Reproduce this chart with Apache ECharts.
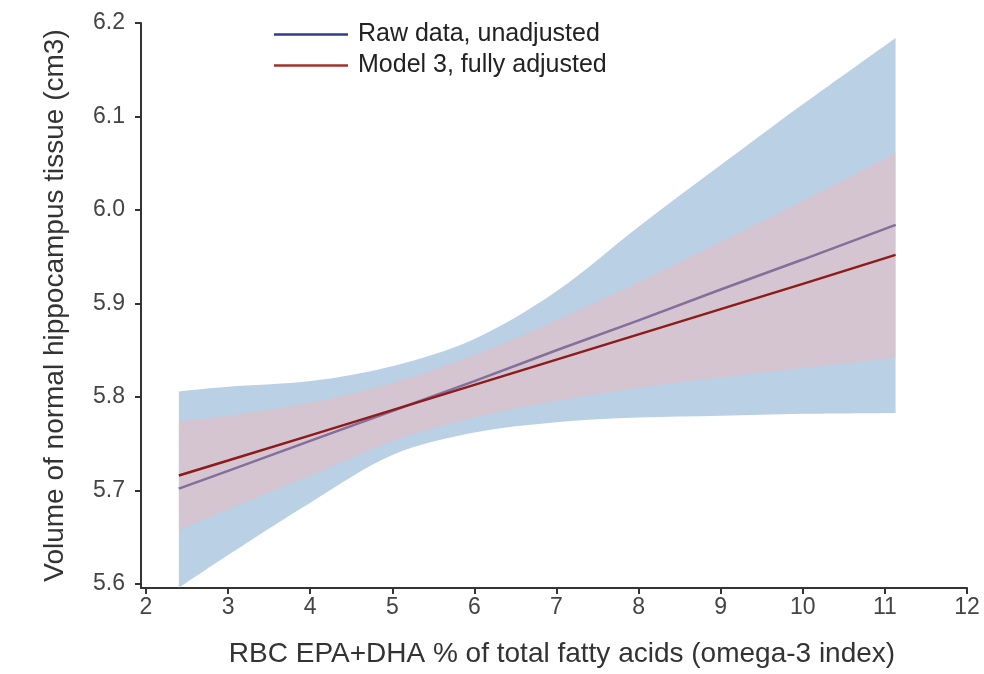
<!DOCTYPE html>
<html>
<head>
<meta charset="utf-8">
<script src="https://cdn.jsdelivr.net/npm/echarts@6/dist/echarts.min.js"></script>
<style>html,body{margin:0;padding:0;background:#fff}#c{width:984px;height:674px}</style>
</head>
<body>
<div id="c"></div>
<script>
// omega-3 index (x)
const xValues = [2.4, 3, 4, 5, 6, 7, 8, 9, 10, 11.13];
// Raw data, unadjusted: fit and 95% CI
const rawFit   = [5.702, 5.721, 5.753, 5.785, 5.817, 5.850, 5.882, 5.915, 5.947, 5.984];
const rawUpper = [5.806, 5.811, 5.817, 5.833, 5.862, 5.913, 5.982, 6.048, 6.113, 6.184];
const rawLower = [5.596, 5.631, 5.687, 5.738, 5.762, 5.773, 5.778, 5.780, 5.782, 5.783];
// Model 3, fully adjusted: fit and 95% CI
const adjFit   = [5.716, 5.732, 5.759, 5.786, 5.813, 5.840, 5.867, 5.894, 5.921, 5.952];
const adjUpper = [5.774, 5.780, 5.794, 5.815, 5.845, 5.882, 5.923, 5.966, 6.010, 6.061];
const adjLower = [5.658, 5.680, 5.716, 5.753, 5.778, 5.796, 5.810, 5.821, 5.831, 5.842];
// tick labels
const xTicks = [2, 3, 4, 5, 6, 7, 8, 9, 10, 11, 12];
const yTicks = [5.6, 5.7, 5.8, 5.9, 6.0, 6.1, 6.2];

const seriesNames = ['Raw data, unadjusted', 'Model 3, fully adjusted'];
const FONT = '"Liberation Sans", Arial, sans-serif';

// Catmull-Rom curve through pixel points, as SVG path commands (no initial M)
function curveThrough(p) {
  let d = '';
  for (let i = 0; i < p.length - 1; i++) {
    const p0 = p[Math.max(0, i - 1)], p1 = p[i], p2 = p[i + 1], p3 = p[Math.min(p.length - 1, i + 2)];
    const c1x = p1[0] + (p2[0] - p0[0]) / 6, c1y = p1[1] + (p2[1] - p0[1]) / 6;
    const c2x = p2[0] - (p3[0] - p1[0]) / 6, c2y = p2[1] - (p3[1] - p1[1]) / 6;
    d += ' C' + c1x + ',' + c1y + ' ' + c2x + ',' + c2y + ' ' + p2[0] + ',' + p2[1];
  }
  return d;
}

function bandSeries(upper, lower, fill, z) {
  return {
    type: 'custom',
    z: z,
    silent: true,
    data: xValues.map((x, i) => [x, upper[i], lower[i]]),
    encode: { x: 0, y: [1, 2] },
    renderItem: function (params, api) {
      if (params.dataIndex !== 0) return null;
      const top = xValues.map((x, i) => api.coord([x, upper[i]]));
      const bot = xValues.map((x, i) => api.coord([x, lower[i]])).reverse();
      const d = 'M' + top[0][0] + ',' + top[0][1] + curveThrough(top) +
                ' L' + bot[0][0] + ',' + bot[0][1] + curveThrough(bot) + ' Z';
      return { type: 'path', shape: { pathData: d }, style: { fill: fill, stroke: null } };
    }
  };
}

const chart = echarts.init(document.getElementById('c'), null, { renderer: 'canvas' });
chart.setOption({
  animation: false,
  backgroundColor: '#ffffff',
  textStyle: { fontFamily: FONT },
  grid: { left: 141, right: 17, top: 23, bottom: 86, containLabel: false },
  legend: {
    data: seriesNames,
    orient: 'vertical',
    left: 269,
    top: 17,
    icon: 'rect',
    itemWidth: 74,
    itemHeight: 2.5,
    itemGap: 6,
    textStyle: { fontFamily: FONT, fontSize: 25, color: '#222', lineHeight: 25, padding: [0, 0, 0, 5] }
  },
  xAxis: {
    type: 'value',
    min: 1.939,
    max: 12,
    name: 'RBC EPA+DHA % of total fatty acids (omega-3 index)',
    nameLocation: 'middle',
    nameGap: 52,
    nameTextStyle: { fontFamily: FONT, fontSize: 28, color: '#333', padding: [0, 0, 0, 16] },
    axisLine: { show: true, onZero: false, lineStyle: { color: '#333', width: 2 } },
    axisTick: { show: true, length: 6, lineStyle: { color: '#333', width: 2 }, customValues: xTicks },
    axisLabel: { fontFamily: FONT, fontSize: 23, color: '#444', margin: 8, customValues: xTicks, formatter: v => String(v) },
    splitLine: { show: false }
  },
  yAxis: {
    type: 'value',
    min: 5.5957,
    max: 6.2,
    name: 'Volume of normal hippocampus tissue (cm3)',
    nameLocation: 'middle',
    nameGap: 72,
    nameRotate: 90,
    nameTextStyle: { fontFamily: FONT, fontSize: 28, color: '#333' },
    axisLine: { show: true, onZero: false, lineStyle: { color: '#333', width: 2 } },
    axisTick: { show: true, length: 6, lineStyle: { color: '#333', width: 2 }, customValues: yTicks },
    axisLabel: { fontFamily: FONT, fontSize: 23, color: '#444', margin: 16, customValues: yTicks, formatter: v => v.toFixed(1) },
    splitLine: { show: false }
  },
  series: [
    bandSeries(rawUpper, rawLower, '#b9d0e5', 1),
    {
      name: seriesNames[0], type: 'line', z: 2, showSymbol: false, silent: true,
      data: xValues.map((x, i) => [x, rawFit[i]]),
      lineStyle: { color: '#2f3c8c', width: 2.5 }, itemStyle: { color: '#2f3c8c' }
    },
    bandSeries(adjUpper, adjLower, 'rgba(250,182,178,0.42)', 3),
    {
      name: seriesNames[1], type: 'line', z: 4, showSymbol: false, silent: true,
      data: xValues.map((x, i) => [x, adjFit[i]]),
      lineStyle: { color: '#8e1b1b', width: 2.5 }, itemStyle: { color: '#a3312c' }
    }
  ]
});
</script>
</body>
</html>
